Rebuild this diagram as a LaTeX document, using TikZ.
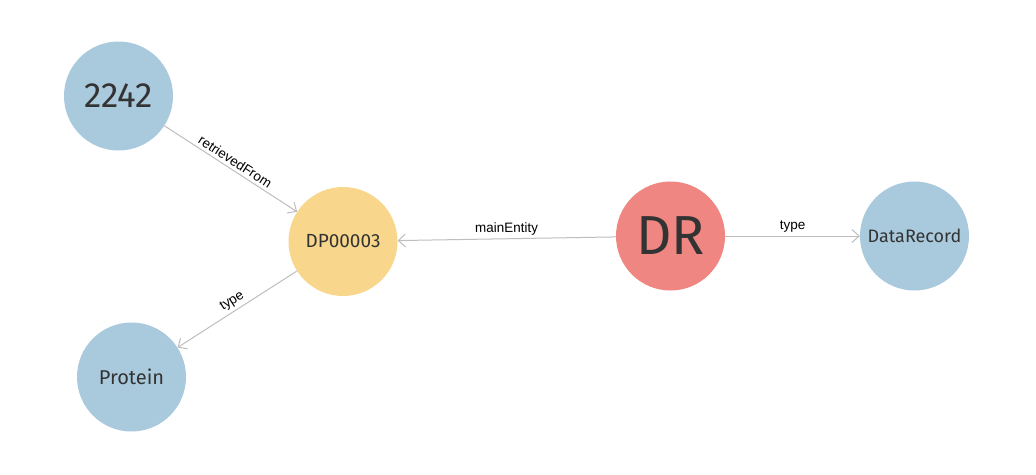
\documentclass[tikz,border=0pt]{standalone}
\usepackage{fontspec}
\setmainfont{Fira Sans}
\newfontfamily\edgefont{Liberation Sans}
\usetikzlibrary{arrows.meta}
\definecolor{nblue}{RGB}{169,201,221}
\definecolor{nyellow}{RGB}{248,215,140}
\definecolor{nred}{RGB}{240,134,130}
\definecolor{etext}{RGB}{51,51,51}
\definecolor{eline}{RGB}{190,190,190}
\tikzset{
  ent/.style={circle, minimum size=109pt, inner sep=0pt, text=etext},
  rel/.style={draw=eline, line width=1pt, -{Straight Barb[length=7pt,width=13pt,line width=1pt]}},
  rlab/.style={font=\edgefont\fontsize{13.5}{13.5}\selectfont, text=black, sloped, above, inner sep=3pt}
}
\begin{document}
\begin{tikzpicture}[x=1pt,y=-1pt]
\useasboundingbox (0,0) rectangle (1036,474);
\fill[white] (0,0) rectangle (1036,474);
\node[ent, fill=nblue, font=\fontsize{35}{35}\selectfont] (n2242) at (118.5,96) {2242};
\node[ent, fill=nyellow, font=\fontsize{19}{19}\selectfont] (dp) at (343,241.5) {DP00003};
\node[ent, fill=nred, font=\fontsize{55}{55}\selectfont] (dr) at (670.5,236) {DR};
\node[ent, fill=nblue, font=\fontsize{18}{18}\selectfont] (rec) at (914.5,236) {DataRecord};
\node[ent, fill=nblue, font=\fontsize{20}{20}\selectfont] (prot) at (131.5,377) {Protein};
\draw[rel] (n2242) -- node[rlab] {retrievedFrom} (dp);
\draw[rel] (dr) -- node[rlab] {mainEntity} (dp);
\draw[rel] (dr) -- node[rlab] {type} (rec);
\draw[rel] (dp) -- node[rlab] {type} (prot);
\end{tikzpicture}
\end{document}
